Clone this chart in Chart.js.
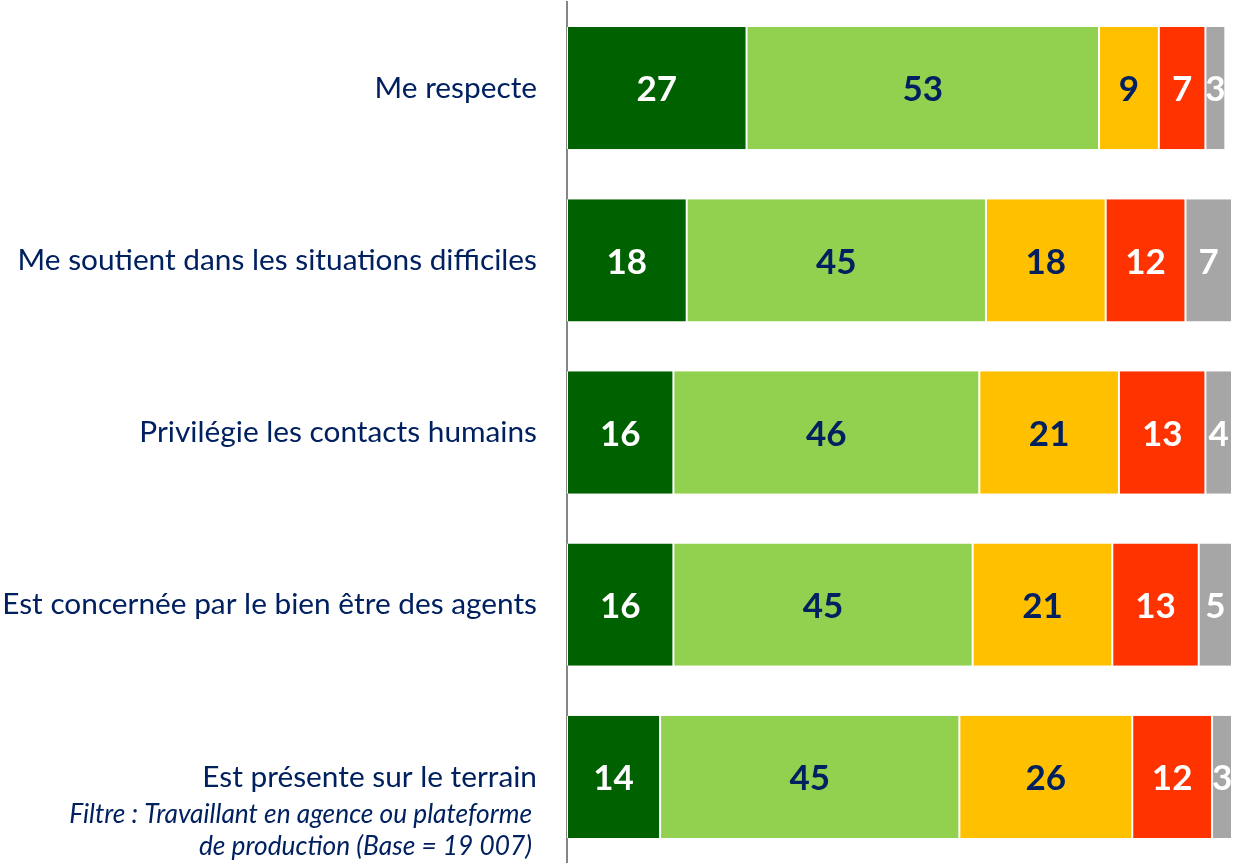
<!DOCTYPE html>
<html>
<head>
<meta charset="utf-8">
<script src="https://cdn.jsdelivr.net/npm/chart.js@4"></script>
<style>
  html, body { margin: 0; padding: 0; background: #fff; }
  #wrap { width: 1234px; height: 863px; }
</style>
</head>
<body>
<div id="wrap"><canvas id="myChart"></canvas></div>
<script>
const categories = [
  'Me respecte',
  'Me soutient dans les situations difficiles',
  'Privilégie les contacts humains',
  'Est concernée par le bien être des agents',
  'Est présente sur le terrain'
];
const toutAFait = [27, 18, 16, 16, 14];
const plutot = [53, 45, 46, 45, 45];
const plutotPas = [9, 18, 21, 21, 26];
const pasDuTout = [7, 12, 13, 13, 12];
const nsp = [3, 7, 4, 5, 3];
const noteLines = ['Filtre : Travaillant en agence ou plateforme', 'de production (Base = 19 007)'];

const navy = '#002060';
const FONT = 'Lato, "Open Sans", sans-serif';

function makeSet(label, data, color, textColor) {
  return {
    label: label,
    data: data,
    backgroundColor: color,
    borderColor: '#ffffff',
    borderWidth: { left: 1, right: 1, top: 0, bottom: 0 },
    borderSkipped: false,
    barPercentage: 0.71,
    categoryPercentage: 1,
    textColor: textColor
  };
}

// values written in the middle of each segment
const valueLabels = {
  id: 'valueLabels',
  afterDatasetsDraw(chart) {
    const ctx = chart.ctx;
    ctx.save();
    ctx.font = 'bold 35px ' + FONT;
    ctx.textAlign = 'center';
    ctx.textBaseline = 'middle';
    chart.data.datasets.forEach((ds, i) => {
      chart.getDatasetMeta(i).data.forEach((bar, j) => {
        ctx.fillStyle = ds.textColor;
        ctx.fillText(ds.data[j], (bar.x + bar.base) / 2, bar.y + 2);
      });
    });
    ctx.restore();
  }
};

// italic note under the last category
const noteText = {
  id: 'noteText',
  afterDraw(chart) {
    const ctx = chart.ctx;
    ctx.save();
    ctx.font = 'italic 26.3px ' + FONT;
    ctx.fillStyle = navy;
    ctx.textAlign = 'right';
    ctx.textBaseline = 'middle';
    ctx.fillText(noteLines[0], 532, 815);
    ctx.fillText(noteLines[1], 532, 847);
    ctx.restore();
  }
};

new Chart(document.getElementById('myChart'), {
  type: 'bar',
  data: {
    labels: categories,
    datasets: [
      makeSet('Tout à fait', toutAFait, '#006100', '#ffffff'),
      makeSet('Plutôt', plutot, '#92D050', navy),
      makeSet('Plutôt pas', plutotPas, '#FFC000', navy),
      makeSet('Pas du tout', pasDuTout, '#FF3300', '#ffffff'),
      makeSet('Ne sait pas', nsp, '#A6A6A6', '#ffffff')
    ]
  },
  options: {
    indexAxis: 'y',
    responsive: true,
    maintainAspectRatio: false,
    animation: false,
    layout: { padding: { top: 2, right: 2, bottom: 0, left: 0 } },
    scales: {
      x: {
        stacked: true,
        min: 0,
        max: 100,
        display: false
      },
      y: {
        stacked: true,
        grid: { display: false, drawTicks: false },
        border: { display: true, color: '#868686', width: 2 },
        ticks: {
          color: navy,
          font: { family: FONT, size: 29.8 },
          padding: 30
        },
        afterFit(scale) {
          scale.width = 567;
          scale.paddingTop = 0;
          scale.paddingBottom = 0;
        }
      }
    },
    plugins: {
      legend: { display: false },
      tooltip: { enabled: false }
    }
  },
  plugins: [valueLabels, noteText]
});
</script>
</body>
</html>
